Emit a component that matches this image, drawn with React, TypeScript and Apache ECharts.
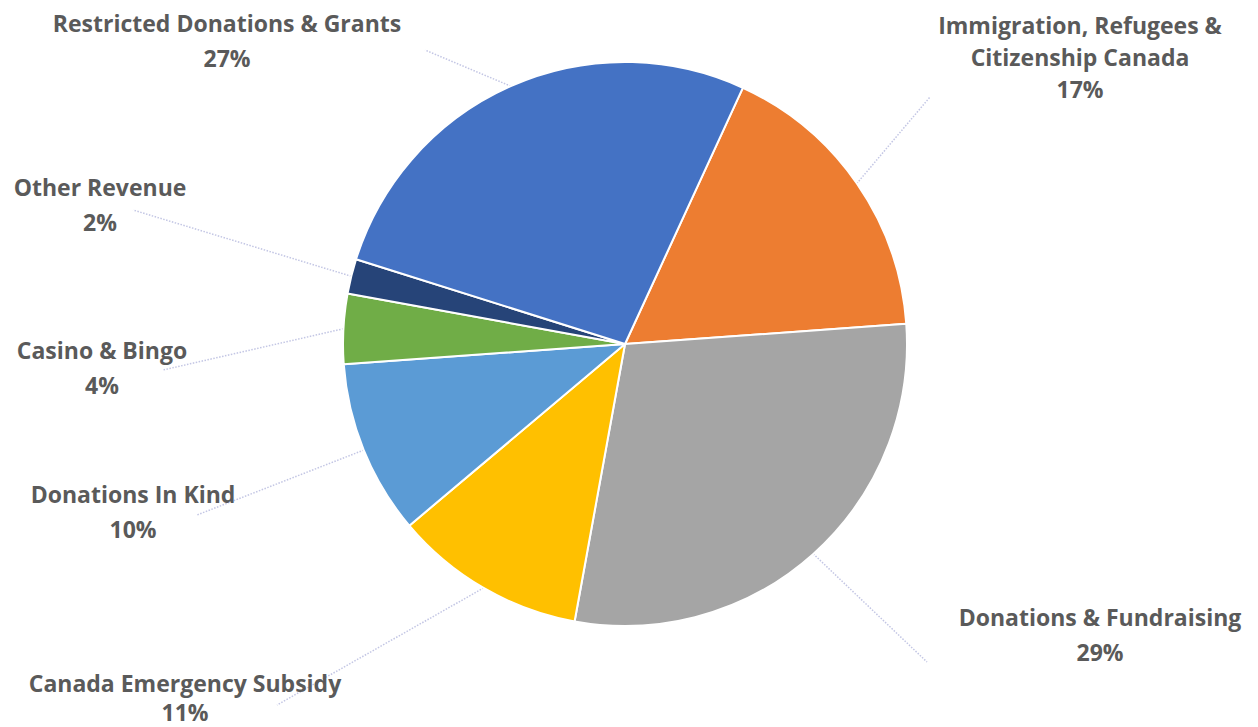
import React, { useEffect, useRef } from "react";
import * as echarts from "echarts";

const categories = [
  "Immigration, Refugees &\nCitizenship Canada",
  "Donations & Fundraising",
  "Canada Emergency Subsidy",
  "Donations In Kind",
  "Casino & Bingo",
  "Other Revenue",
  "Restricted Donations & Grants",
];
const values = [17, 29, 11, 10, 4, 2, 27];
const colors = ["#ED7D31", "#A5A5A5", "#FFC000", "#5B9BD5", "#70AD47", "#264478", "#4472C4"];

// label block centres and leader-line end points in page pixels (layout only)
const labelPos: [number, number][] = [
  [1080, 57],
  [1100, 634],
  [185, 697],
  [133, 511],
  [102, 367],
  [100, 204],
  [227, 40],
];
const lineHeights = [32, 35, 29, 35, 35, 35, 35];
const lineEnd: [number, number][] = [
  [930, 97],
  [927, 662],
  [277, 705],
  [197, 515],
  [163, 370],
  [133, 210],
  [425, 50],
];
const OFF = 8; // body margin

export default function App() {
  const ref = useRef<HTMLDivElement>(null);
  useEffect(() => {
    if (!ref.current) return;
    const chart = echarts.init(ref.current, undefined, { renderer: "svg" });
    chart.setOption({
      animation: false,
      backgroundColor: "#ffffff",
      series: [
        {
          type: "pie",
          center: [625 - OFF, 344 - OFF],
          radius: 282,
          startAngle: 65.3,
          clockwise: true,
          itemStyle: { borderColor: "#ffffff", borderWidth: 2 },
          data: categories.map((c, i) => ({
            name: c,
            value: values[i],
            itemStyle: { color: colors[i] },
            label: { lineHeight: lineHeights[i] },
          })),
          label: {
            show: true,
            position: "outside",
            formatter: (p: any) => `${p.name}\n${p.value}%`,
            fontFamily: "Open Sans",
            fontWeight: "bold",
            fontSize: 23,
            lineHeight: 35,
            color: "#5a5a5a",
            align: "center",
          },
          labelLine: {
            show: true,
            length: 20,
            length2: 20,
            smooth: false,
            lineStyle: { color: "#c3c6e4", width: 1.5, type: "dotted" },
          },
          labelLayout: (params: any) => {
            const i = params.dataIndex;
            const start = params.labelLinePoints ? params.labelLinePoints[0] : null;
            const res: any = {
              x: labelPos[i][0] - OFF,
              y: labelPos[i][1] - OFF,
              align: "center",
              verticalAlign: "middle",
            };
            if (start) res.labelLinePoints = [start, [lineEnd[i][0] - OFF, lineEnd[i][1] - OFF]];
            return res;
          },
        },
      ],
    });
    return () => chart.dispose();
  }, []);
  return <div ref={ref} style={{ width: 1250, height: 719 }} />;
}
